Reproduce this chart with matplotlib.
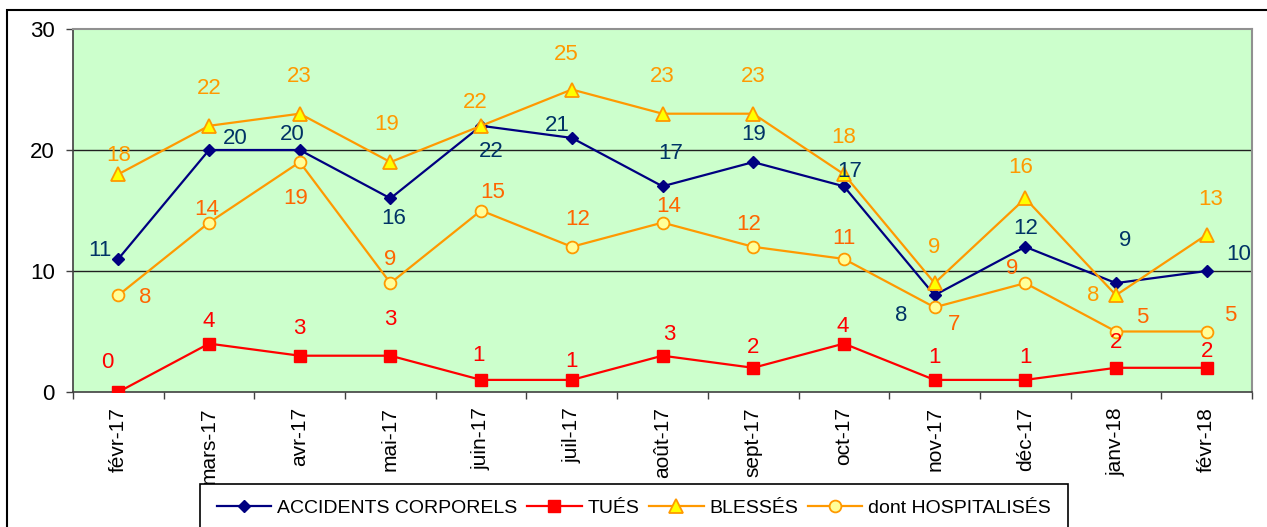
import matplotlib
matplotlib.use('Agg')
import matplotlib.pyplot as plt
from matplotlib.patches import Rectangle

plt.rcParams['font.family'] = ['Liberation Sans', 'DejaVu Sans']

# data
months = ['févr-17', 'mars-17', 'avr-17', 'mai-17', 'juin-17', 'juil-17', 'août-17',
          'sept-17', 'oct-17', 'nov-17', 'déc-17', 'janv-18', 'févr-18']
accidents = [11, 20, 20, 16, 22, 21, 17, 19, 17, 8, 12, 9, 10]
tues = [0, 4, 3, 3, 1, 1, 3, 2, 4, 1, 1, 2, 2]
blesses = [18, 22, 23, 19, 22, 25, 23, 23, 18, 9, 16, 8, 13]
hospitalises = [8, 14, 19, 9, 15, 12, 14, 12, 11, 7, 9, 5, 5]

# data label offsets (pixels, dy up), as placed in the original chart
off_acc = [(-18, 8), (26, 11), (-7, 15), (3, -20), (10, -26), (-14, 12), (8, 33),
           (0, 28), (6, 15), (-33, -20), (0, 18), (9, 43), (32, 16)]
off_tues = [(-11, 29), (0, 22), (0, 27), (0, 36), (-3, 24), (0, 18), (7, 21),
            (0, 20), (-1, 17), (0, 22), (0, 22), (0, 25), (0, 16)]
off_bles = [(0, 19), (0, 37), (0, 37), (-4, 38), (-6, 23), (-6, 35), (0, 37),
            (0, 37), (0, 37), (0, 36), (-5, 31), (-23, 0), (4, 35)]
off_hosp = [(27, -2), (-2, 13), (-4, -36), (0, 24), (12, 18), (6, 27), (6, 16),
            (-5, 22), (0, 20), (19, -17), (-13, 15), (26, 14), (24, 16)]

W, H = 1267, 527
fig = plt.figure(figsize=(W / 100, H / 100), dpi=100)
ax = fig.add_axes([73 / W, 1 - 392 / H, (1252 - 73) / W, (392 - 29) / H])
ax.set_facecolor('#CCFFCC')

x = list(range(len(months)))
series = [
    (accidents, 'ACCIDENTS CORPORELS', dict(color='#000080', marker='D', ms=6.5,
                                           mfc='#000080', mec='#000080'), '#003366', off_acc),
    (tues, 'TUÉS', dict(color='#FF0000', marker='s', ms=8.5,
                        mfc='#FF0000', mec='#FF0000'), '#FF0000', off_tues),
    (blesses, 'BLESSÉS', dict(color='#FF9900', marker='^', ms=9.5,
                              mfc='#FFFF00', mec='#FF9900', mew=1.3), '#FF9900', off_bles),
    (hospitalises, 'dont HOSPITALISÉS', dict(color='#FF9900', marker='o', ms=8.5,
                                            mfc='#FFFF99', mec='#FF9900', mew=1.3), '#FF6600', off_hosp),
]

handles = []
for vals, name, st, lab_col, offs in series:
    ln, = ax.plot(x, vals, lw=1.6, label=name, zorder=3, **st)
    handles.append(ln)
    for i, v in enumerate(vals):
        ax.annotate(str(v), (i, v), xytext=offs[i], textcoords='offset pixels',
                    ha='center', va='center', fontsize=16, color=lab_col, zorder=4)

ax.set_xlim(-0.5, len(months) - 0.5)
ax.set_ylim(0, 30)
ax.set_yticks([0, 10, 20, 30])
ax.tick_params(axis='y', labelsize=16, length=5, width=1, color='#404040', pad=8)
for gy in (10, 20):
    ax.axhline(gy, color='#202020', lw=1, zorder=1)

ax.set_xticks([i - 0.5 for i in range(len(months) + 1)])
ax.set_xticklabels([])
ax.set_xticks(x, minor=True)
ax.set_xticklabels(months, minor=True, rotation=90, fontsize=15)
ax.tick_params(axis='x', which='major', length=5, width=1, color='#404040')
ax.tick_params(axis='x', which='minor', length=0, pad=11)

for s in ('top', 'right'):
    ax.spines[s].set_color('#909090')
    ax.spines[s].set_linewidth(1.5)
for s in ('left', 'bottom'):
    ax.spines[s].set_color('#404040')
    ax.spines[s].set_linewidth(1.2)

# outer chart border
fig.patches.append(Rectangle((7 / W, -0.2), 1.5, 1.2 - 10 / H, transform=fig.transFigure,
                             fill=False, ec='black', lw=1.5, zorder=10))
# legend box (bottom goes past the image edge)
fig.patches.append(Rectangle((200 / W, -0.2), (1068 - 200) / W, 0.2 + 1 - 484 / H,
                             transform=fig.transFigure, fc='white', ec='black', lw=1.2, zorder=9))

leg = fig.legend(handles=handles, loc='upper center', bbox_to_anchor=(634 / W, 1 - 484 / H),
                 ncol=4, frameon=False, fontsize=14, handlelength=2.8, handletextpad=0.3,
                 columnspacing=0.5, borderpad=0.3)
leg.set_zorder(11)

fig.savefig('out.png', dpi=100)
